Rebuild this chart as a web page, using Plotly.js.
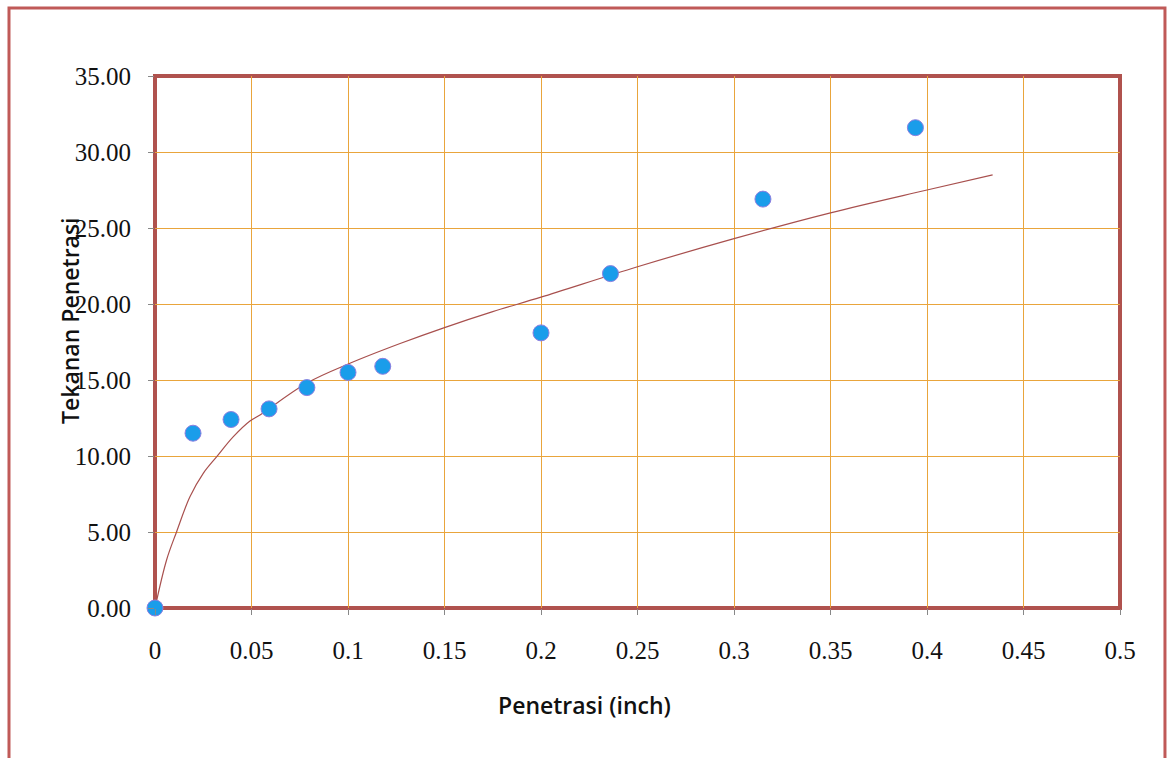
<!DOCTYPE html>
<html>
<head>
<meta charset="utf-8">
<script src="https://cdn.plot.ly/plotly-3.0.1.min.js"></script>
<style>
  html, body { margin: 0; padding: 0; background: #ffffff; }
  #chart { width: 1170px; height: 758px; }
</style>
</head>
<body>
<div id="chart"></div>
<script>
// Measured penetration test points
const penetrasi = [0, 0.0197, 0.0394, 0.0591, 0.0787, 0.1, 0.118, 0.2, 0.236, 0.315, 0.394];
const tekanan = [0, 11.5, 12.4, 13.1, 14.5, 15.5, 15.9, 18.1, 22.0, 26.9, 31.6];

// Power trend line, sampled along the curve
const trendX = [0, 0.006, 0.0112, 0.0181, 0.025, 0.032, 0.0406, 0.0492, 0.0544, 0.0787, 0.101, 0.127, 0.15, 0.175, 0.2, 0.25, 0.3, 0.35, 0.4, 0.434];
const trendY = [0, 3.16, 5.02, 7.32, 8.86, 9.96, 11.27, 12.3, 12.7, 14.8, 16.1, 17.4, 18.45, 19.5, 20.45, 22.45, 24.3, 26.0, 27.5, 28.5];

const xTicks = [0, 0.05, 0.1, 0.15, 0.2, 0.25, 0.3, 0.35, 0.4, 0.45, 0.5];
const xTickText = ['0', '0.05', '0.1', '0.15', '0.2', '0.25', '0.3', '0.35', '0.4', '0.45', '0.5'];
const yTicks = [0, 5, 10, 15, 20, 25, 30, 35];
const yTickText = ['0.00', '5.00', '10.00', '15.00', '20.00', '25.00', '30.00', '35.00'];

const gridColor = '#E9A53C';
const frameColor = '#B0524E';
const tickFont = { family: 'Liberation Serif, DejaVu Serif, serif', size: 25, color: '#111111' };
const titleFont = { family: 'Open Sans, Noto Sans, sans-serif', size: 23, color: '#111111', weight: 600 };

const traces = [
  {
    x: trendX, y: trendY,
    type: 'scatter', mode: 'lines',
    line: { color: '#A8504E', width: 1.2, shape: 'spline', smoothing: 1 },
    hoverinfo: 'skip', showlegend: false
  },
  {
    x: penetrasi, y: tekanan,
    type: 'scatter', mode: 'markers',
    cliponaxis: false,
    marker: { color: '#1A9DEA', size: 16, line: { color: '#8C7FE0', width: 1 } },
    showlegend: false
  }
];

const layout = {
  width: 1170, height: 758,
  margin: { l: 155, r: 50, t: 76, b: 150 },
  paper_bgcolor: '#ffffff',
  plot_bgcolor: '#ffffff',
  showlegend: false,
  xaxis: {
    range: [0, 0.5],
    tickvals: xTicks, ticktext: xTickText,
    showgrid: true, gridcolor: gridColor, gridwidth: 1,
    zeroline: false,
    showline: false,
    ticks: 'outside', ticklen: 6, tickcolor: '#888888',
    ticklabelstandoff: 14,
    tickfont: tickFont,
    fixedrange: true
  },
  yaxis: {
    range: [0, 35],
    tickvals: yTicks, ticktext: yTickText,
    showgrid: true, gridcolor: gridColor, gridwidth: 1,
    zeroline: false,
    showline: false,
    ticks: 'outside', ticklen: 6, tickcolor: '#888888',
    ticklabelstandoff: 12,
    tickfont: tickFont,
    fixedrange: true
  },
  shapes: [
    // plot area frame
    { type: 'rect', xref: 'paper', yref: 'paper', x0: 0, x1: 1, y0: 0, y1: 1,
      line: { color: frameColor, width: 4 }, layer: 'below' },
    // outer chart border
    { type: 'rect', xref: 'paper', yref: 'paper', x0: -0.1513, x1: 1.0466, y0: -0.4, y1: 1.1278,
      line: { color: '#C05A58', width: 3 }, layer: 'above' }
  ],
  annotations: [
    { text: 'Penetrasi (inch)', xref: 'paper', yref: 'paper',
      x: (584 - 155) / 965, y: -(705 - 608) / 532,
      xanchor: 'center', yanchor: 'middle', showarrow: false,
      font: titleFont },
    { text: 'Tekanan Penetrasi', xref: 'paper', yref: 'paper',
      x: -(155 - 70) / 965, y: (608 - 321) / 532, textangle: -90,
      xanchor: 'center', yanchor: 'middle', showarrow: false,
      font: titleFont }
  ]
};

Plotly.newPlot('chart', traces, layout, { displayModeBar: false, staticPlot: true });
</script>
</body>
</html>
